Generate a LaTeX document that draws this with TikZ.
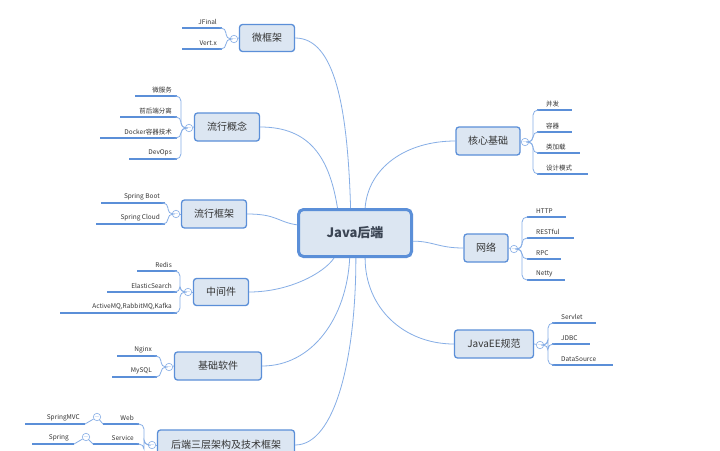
\documentclass[tikz,border=0pt]{standalone}
\usepackage{fontspec}
\setmainfont{Noto Sans CJK SC}
\definecolor{bd}{HTML}{5B8FD8}
\definecolor{fl}{HTML}{DCE6F2}
\definecolor{ln}{HTML}{86AEE6}
\definecolor{tx}{HTML}{333333}
\tikzset{
  box/.style={draw=bd,fill=fl,rounded corners=3pt,line width=1.3pt,inner sep=0pt,font=\fontsize{10}{12}\selectfont,text=tx},
  mainbox/.style={draw=bd,fill=fl,rounded corners=5pt,line width=3pt,minimum width=113pt,minimum height=47pt,font=\fontsize{13}{15}\selectfont\bfseries,text=tx!80!bd},
  conn/.style={draw=ln,line width=0.8pt},
  leafline/.style={draw=bd,line width=2pt},
  leaftext/.style={font=\fontsize{6.5}{8}\selectfont,text=tx,inner sep=1pt},
  coll/.style={circle,draw=ln,fill=white,line width=0.6pt,minimum size=7pt,inner sep=0pt,font=\fontsize{6}{6}\selectfont,text=ln},
}
% left leaf: name, x1, x2, y, text
\newcommand{\leafL}[5]{%
  \coordinate (#1-a) at (#2,#4); \coordinate (#1-b) at (#3,#4);
  \draw[leafline] (#1-a) -- (#1-b);
  \node[leaftext,anchor=south east] (#1) at (#3-4,#4-2) {#5};}
\newcommand{\leafR}[5]{%
  \coordinate (#1-a) at (#2,#4); \coordinate (#1-b) at (#3,#4);
  \draw[leafline] (#1-a) -- (#1-b);
  \node[leaftext,anchor=south west] (#1) at (#2+8,#4-2) {#5};}
\newcommand{\brL}[2]{\draw[conn,rounded corners=5pt] (#1.west) -- ++(-4,0) |- (#2-b);}
\newcommand{\brR}[2]{\draw[conn,rounded corners=5pt] (#1.east) -- ++(4,0) |- (#2-a);}
\begin{document}
\begin{tikzpicture}[x=1pt,y=-1pt]
\useasboundingbox[fill=white] (0,0) rectangle (720,450);
\node[mainbox] (main) at (355,233) {Java后端};
% left children
\node[box,minimum width=55pt,minimum height=27pt] (wkj) at (267,38) {微框架};
\node[box,minimum width=65pt,minimum height=28pt] (lxgn) at (227,127) {流行概念};
\node[box,minimum width=65pt,minimum height=28pt] (lxkj) at (214,214) {流行框架};
\node[box,minimum width=55pt,minimum height=27pt] (zjj) at (221,292) {中间件};
\node[box,minimum width=87pt,minimum height=28pt] (jcrj) at (218,366) {基础软件};
\node[box,minimum width=137pt,minimum height=30pt] (scjg) at (226,445) {后端三层架构及技术框架};
% right children
\node[box,minimum width=64pt,minimum height=28pt] (hxjc) at (488,141) {核心基础};
\node[box,minimum width=44pt,minimum height=28pt] (wl) at (486,248) {网络};
\node[box,minimum width=79pt,minimum height=28pt] (jee) at (494,344) {JavaEE规范};
% main connectors
\draw[conn] (wkj.east) .. controls +(40,0) and +(-3,-100) .. (main.100);
\draw[conn] (lxgn.east) .. controls +(50,0) and +(-8,-50) .. (main.125);
\draw[conn] (lxkj.east) .. controls +(30,0) and +(-20,-3) .. (main.172);
\draw[conn] (zjj.east) .. controls +(40,0) and +(-10,15) .. (main.230);
\draw[conn] (jcrj.east) .. controls +(50,0) and +(-3,60) .. (main.258);
\draw[conn] (scjg.east) .. controls +(40,0) and +(0,100) .. (main.272);
\draw[conn] (hxjc.west) .. controls +(-50,0) and +(3,-40) .. (main.68);
\draw[conn] (wl.west) .. controls +(-25,0) and +(20,0) .. (main.-8);
\draw[conn] (jee.west) .. controls +(-50,0) and +(0,50) .. (main.292);
% collapse circles
\node[coll] (c1) at (234,39) {$-$};
\node[coll] (c2) at (189,128) {$-$};
\node[coll] (c3) at (176,214) {$-$};
\node[coll] (c4) at (188,292) {$-$};
\node[coll] (c5) at (169,367) {$-$};
\node[coll] (c6) at (152,445) {$-$};
\node[coll] (c7) at (525,142) {$-$};
\node[coll] (c8) at (514,249) {$-$};
\node[coll] (c9) at (540,345) {$-$};
\node[coll] (c10) at (97,417) {$-$};
\node[coll] (c11) at (86,437) {$-$};
\draw[conn] (wkj.west) -- (c1); \draw[conn] (lxgn.west) -- (c2);
\draw[conn] (lxkj.west) -- (c3); \draw[conn] (zjj.west) -- (c4);
\draw[conn] (jcrj.west) -- (c5); \draw[conn] (scjg.west) -- (c6);
\draw[conn] (hxjc.east) -- (c7); \draw[conn] (wl.east) -- (c8);
\draw[conn] (jee.east) -- (c9);
% leaves
\leafL{l1}{182}{222}{28}{JFinal}
\leafL{l2}{182}{222}{49}{Vert.x}
\brL{c1}{l1}\brL{c1}{l2}
\leafL{l3}{135}{177}{96}{微服务}
\leafL{l4}{120}{177}{117}{前后端分离}
\leafL{l5}{100}{177}{138}{Docker容器技术}
\leafL{l6}{129}{177}{159}{DevOps}
\brL{c2}{l3}\brL{c2}{l4}\brL{c2}{l5}\brL{c2}{l6}
\leafL{l7}{101}{165}{203}{Spring Boot}
\leafL{l8}{96}{165}{224}{Spring Cloud}
\brL{c3}{l7}\brL{c3}{l8}
\leafL{l9}{137}{177}{271}{Redis}
\leafL{l10}{107}{177}{292}{ElasticSearch}
\leafL{l11}{60}{177}{313}{ActiveMQ,RabbitMQ,Kafka}
\brL{c4}{l9}\brL{c4}{l10}\brL{c4}{l11}
\leafL{l12}{117}{157}{356}{Nginx}
\leafL{l13}{112}{157}{377}{MySQL}
\brL{c5}{l12}\brL{c5}{l13}
\leafL{l14}{103}{139}{424}{Web}
\leafL{l15}{93}{139}{444}{Service}
\brL{c6}{l14}\brL{c6}{l15}
\leafL{l16}{25}{85}{424}{SpringMVC}
\leafL{l17}{32}{74}{444}{Spring}
\draw[conn] (l14-a) -- (c10); \draw[conn] (c10) -- (l16-b);
\draw[conn] (l15-a) -- (c11); \draw[conn] (c11) -- (l17-b);
\leafR{r1}{537}{572}{110}{并发}
\leafR{r2}{537}{572}{132}{容器}
\leafR{r3}{537}{580}{153}{类加载}
\leafR{r4}{537}{588}{174}{设计模式}
\brR{c7}{r1}\brR{c7}{r2}\brR{c7}{r3}\brR{c7}{r4}
\leafR{r5}{527}{566}{217}{HTTP}
\leafR{r6}{527}{574}{238}{RESTful}
\leafR{r7}{527}{561}{259}{RPC}
\leafR{r8}{527}{565}{280}{Netty}
\brR{c8}{r5}\brR{c8}{r6}\brR{c8}{r7}\brR{c8}{r8}
\leafR{r9}{552}{596}{323}{Servlet}
\leafR{r10}{552}{590}{344}{JDBC}
\leafR{r11}{552}{613}{365}{DataSource}
\brR{c9}{r9}\brR{c9}{r10}\brR{c9}{r11}
\end{tikzpicture}
\end{document}
